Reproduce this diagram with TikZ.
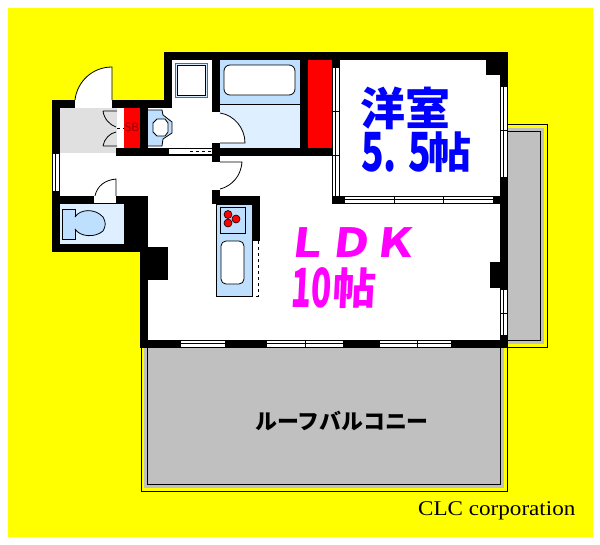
\documentclass[tikz,border=0pt]{standalone}
\usepackage{fontspec}
\newfontfamily\cjk[BoldFont={Noto Sans CJK JP Black}]{Noto Sans CJK JP}
\setmainfont{Liberation Serif}
\usetikzlibrary{positioning}
\definecolor{bgyellow}{RGB}{255,255,0}
\definecolor{balcgray}{RGB}{192,192,192}
\definecolor{entrygray}{RGB}{224,224,224}
\definecolor{wetblue}{RGB}{222,240,255}
\definecolor{fixblue}{RGB}{191,223,255}
\definecolor{ldkpink}{RGB}{255,0,255}
\definecolor{roomblue}{RGB}{0,0,255}
\definecolor{closetred}{RGB}{255,0,0}
\tikzset{
	wall/.style = {fill=black},
	closet/.style = {fill=closetred},
	opening/.style = {fill=white},
	thin line/.style = {draw=black, line width=0.8pt},
	fixture/.style = {draw=black, line width=0.8pt, fill=fixblue},
	roomlabel/.style = {inner sep=0pt, anchor=west},
	burner/.style = {circle, draw=black, line width=0.6pt, fill=closetred, minimum size=8pt, inner sep=0pt},
}
\begin{document}
\begin{tikzpicture}[x=1pt,y=-1pt]
	\useasboundingbox (0,0) rectangle (600,544);
	\fill [bgyellow] (8,8) rectangle (593,537);

	\draw [thin line] (504,124.5) -- (547.5,124.5) -- (547.5,347.5) -- (504,347.5);
	\fill [balcgray] (508,128) rectangle (544,344);
	\draw [thin line, fill=balcgray] (508,131) -- (540.5,131) -- (540.5,340) -- (508,340);
	\draw [thin line] (141,348) -- (141,491.5) -- (507.5,491.5) -- (507.5,348);
	\fill [balcgray] (144,348) rectangle (504,488);
	\draw [thin line, fill=balcgray] (147.5,348) -- (147.5,484.5) -- (500.5,484.5) -- (500.5,348);

	\fill [white] (60,108) rectangle (212,204) (172,60) rectangle (212,148) (148,156) rectangle (500,340) (340,60) rectangle (500,204);
	\fill [entrygray] (60,108) rectangle (117,153);
	\fill [wetblue] (220,60) rectangle (300,148);
	\fill [wetblue] (60,204) rectangle (124,244);

	\fill [wall] (164,52) rectangle (508,60);
	\fill [wall] (164,52) rectangle (172,108);
	\fill [wall] (52,100) rectangle (172,108);
	\fill [wall] (52,100) rectangle (60,252);
	\fill [wall] (52,196) rectangle (148,204);
	\fill [wall] (52,244) rectangle (148,252);
	\fill [wall] (124,196) rectangle (148,252);
	\fill [wall] (140,196) rectangle (148,348);
	\fill [wall] (148,247) rectangle (168,280);
	\fill [wall] (140,340) rectangle (508,348);
	\fill [wall] (500,52) rectangle (508,348);
	\fill [wall] (486,60) rectangle (500,75);
	\fill [wall] (490,262) rectangle (500,288);
	\fill [wall] (116,148) rectangle (220,156);
	\fill [wall] (140,108) rectangle (148,156);
	\fill [wall] (212,60) rectangle (220,204);
	\fill [wall] (212,148) rectangle (340,156);
	\fill [wall] (300,60) rectangle (308,156);
	\fill [wall] (332,60) rectangle (340,156);
	\fill [wall] (332,196) rectangle (508,204);
	\fill [wall] (212,196) rectangle (260,204);
	\fill [wall] (252,196) rectangle (260,241);

	\fill [closet] (124,108) rectangle (140,148);
	\fill [closet] (308,60) rectangle (332,148);

	\fill [opening] (75,100) rectangle (112,108);
	\fill [opening] (94,196) rectangle (116,203);
	\fill [opening] (117,108) rectangle (124,147);
	\fill [opening] (212,112) rectangle (220,143);
	\fill [opening] (212,162) rectangle (220,190);
	\fill [opening] (252,241) rectangle (258,297);

	\foreach \xa/\xb/\ya in {345/493/196, 181/225/340, 267/343/340, 380/451/340} {
		\fill [opening] (\xa,\ya) rectangle (\xb,\ya+8);
		\draw [thin line] (\xa,\ya+0.5) -- (\xb,\ya+0.5) (\xa,\ya+3) -- (\xb,\ya+3) (\xa,\ya+7) -- (\xb,\ya+7);
	}
	\foreach \ya/\yb/\xa in {68/196/332, 87/177/500, 290/335/500, 154/191/52} {
		\fill [opening] (\xa,\ya) rectangle (\xa+8,\yb);
		\draw [thin line] (\xa+0.5,\ya) -- (\xa+0.5,\yb) (\xa+3,\ya) -- (\xa+3,\yb) (\xa+7,\ya) -- (\xa+7,\yb);
	}
	\draw [thin line] (394,196) -- (394,204) (443,196) -- (443,204) (305,340) -- (305,347) (417,340) -- (417,347);
	\draw [thin line] (332,111) -- (340,111) (332,155) -- (340,155) (500,130) -- (508,130) (500,313) -- (508,313);

	\fill [opening] (169,148) rectangle (212,156);
	\draw [thin line] (169,148.5) -- (212,148.5) (169,154) -- (212,154);
	\draw [thin line, dashed] (190,151) -- (212,151);
	\fill [wall] (189,154) rectangle (212,156);
	\draw [thin line] (169,155.5) -- (189,155.5);

	\draw [thin line, fill=white] (112,100) -- (112,67) .. controls (92,67) and (77,82) .. (75,100);
	\draw [thin line, fill=white] (116,196) -- (116,179) .. controls (105,180) and (97,186) .. (95,196);
	\draw [thin line] (103,111) -- (117,111) (103,111) .. controls (104,119) and (110,125) .. (116,127);
	\draw [thin line] (103,146) -- (117,146) (103,146) .. controls (104,139) and (110,133) .. (116,132);
	\draw [thin line, dashed] (117,128.5) -- (124,128.5);
	\draw [thin line, fill=white] (220,113) .. controls (234,115) and (245,128) .. (245,143) -- (220,143);
	\draw [thin line, fill=white] (220,162) -- (242,162) .. controls (241,176) and (232,186) .. (220,189);

	\draw [thin line, draw=black!60, fill=fixblue!60] (175,63) rectangle (207,97);
	\draw [thin line, fill=white] (177,65) rectangle (205,95);
	\fill [fixblue] (220,60) rectangle (300,105);
	\draw [thin line] (220,104.5) -- (300,104.5);
	\draw [thin line, fill=white, rounded corners=6pt] (224,65) rectangle (295,95);
	\draw [fixture] (148,110) -- (162,110) -- (163,115) -- (172,122) -- (172,133) -- (163,139) -- (162,146) -- (148,146);
	\draw [thin line, fill=white] (153,123) -- (157,119) -- (165,119) -- (168,123) -- (168,132) -- (165,136) -- (157,136) -- (153,132) -- cycle;

	\draw [fixture] (62,209) rectangle (75,239);
	\draw [fixture] (75,217) .. controls (80,209) and (95,208) .. (103,217) .. controls (106,222) and (106,226) .. (103,231) .. controls (95,238) and (80,237) .. (75,229);

	\draw [fixture] (216.5,204) rectangle (252.5,296.5);
	\draw [thin line] (220,207) rectangle (245,233);
	\node [burner](burnera) at (228,214.5) {};
	\node [burner](burnerb) at (236,219) {};
	\node [burner](burnerc) at (228,223) {};
	\draw [thin line, fill=white, rounded corners=5pt] (221,241) rectangle (244,284);
	\draw [thin line, dashed] (258,241) -- (258,296) -- (252,296);

	\node [inner sep=0pt, text=red!55!black, font=\sffamily\fontsize{12}{12}\selectfont](sb) at (132,127.5) {SB};
	\node [roomlabel, text=roomblue, font=\cjk\bfseries\fontsize{45}{45}\selectfont](youshitsu) at (360,108) {洋室};
	\node [roomlabel, text=roomblue, font=\cjk\bfseries\fontsize{54}{54}\selectfont, xscale=0.69](size) at (361,152.5) {5. 5};
	\node [roomlabel, text=roomblue, font=\cjk\bfseries\fontsize{43}{43}\selectfont](sizeunit) at (428,152.5) {帖};
	\node [roomlabel, text=ldkpink, xslant=0.12, xscale=1.1, font=\cjk\bfseries\fontsize{40}{40}\selectfont](ldk) at (286,243) {ＬＤＫ};
	\node [roomlabel, text=ldkpink, xslant=0.05, xscale=0.62, font=\cjk\bfseries\fontsize{54}{54}\selectfont](ldksize) at (291,288) {10};
	\node [roomlabel, text=ldkpink, xslant=0.05, font=\cjk\bfseries\fontsize{43}{43}\selectfont](ldkunit) at (333,288) {帖};
	\node [roomlabel, text=black, xscale=1.02, font=\cjk\bfseries\fontsize{21.5}{21.5}\selectfont](roof) at (255,421) {ルーフバルコニー};
	\node [roomlabel, xscale=1.1, font=\fontsize{21}{21}\selectfont](clc) at (418,510.5) {CLC corporation};
\end{tikzpicture}
\end{document}
